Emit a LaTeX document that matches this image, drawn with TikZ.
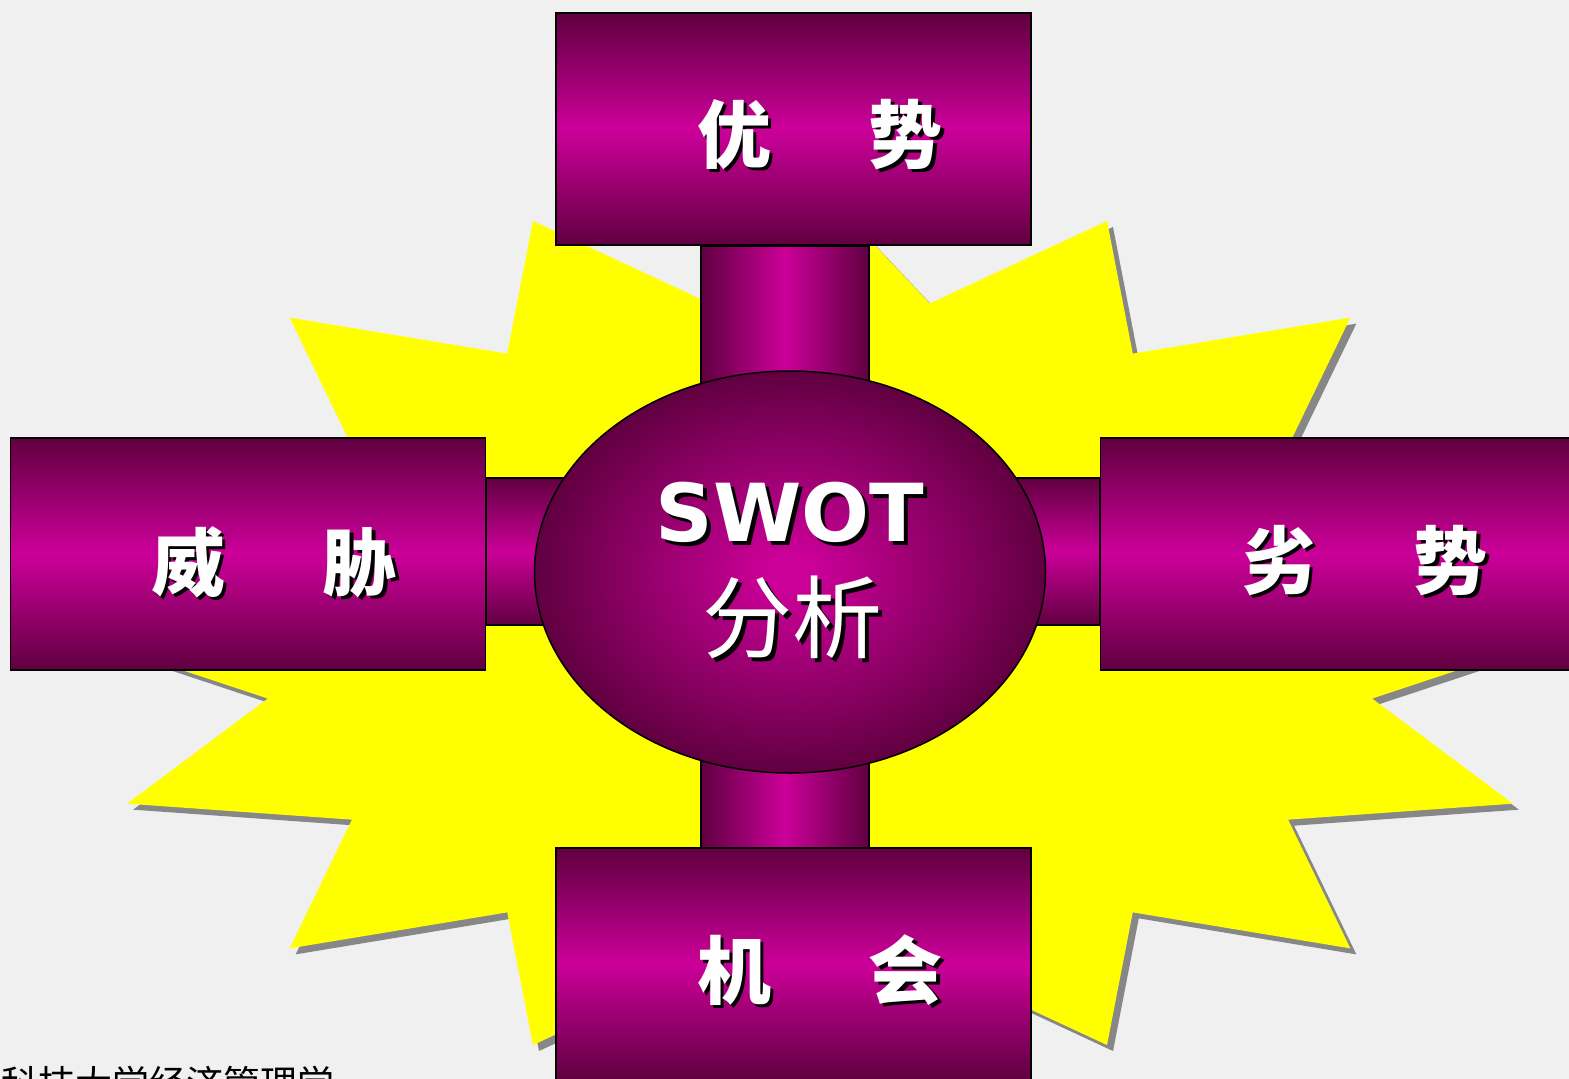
\documentclass[tikz,border=0pt]{standalone}
\usepackage{fontspec}
\newfontfamily\cjk{Noto Sans CJK SC}
\newfontfamily\vfont{DejaVu Sans}
\usetikzlibrary{shapes.geometric,calc}
\definecolor{bg}{RGB}{240,240,240}
\definecolor{dk}{RGB}{96,0,64}
\definecolor{mg}{RGB}{204,0,153}
\definecolor{sy}{RGB}{255,255,0}
\definecolor{shd}{RGB}{135,135,135}
\pgfdeclareradialshading{ellshade}{\pgfpoint{0bp}{0bp}}{color(0bp)=(mg); color(2bp)=(mg); color(25bp)=(dk); color(50bp)=(dk)}
\tikzset{
  box/.style={rectangle, draw=black, line width=1.5pt, top color=dk, bottom color=dk, middle color=mg,
    minimum width=475pt, minimum height=232pt, inner sep=0pt},
  vbarst/.style={draw=black, line width=1.5pt, left color=dk, right color=dk, middle color=mg},
  hbarst/.style={draw=black, line width=1.5pt, top color=dk, bottom color=dk, middle color=mg},
  hub/.style={ellipse, draw=black, line width=1.5pt, shading=ellshade, minimum width=511pt, minimum height=402pt, inner sep=0pt},
  lbl/.style={anchor=base, inner sep=0pt, text=white, font=\cjk\bfseries\fontsize{74}{74}\selectfont},
  lblsh/.style={lbl, text=black},
}
\begin{document}
\begin{tikzpicture}[x=1pt,y=-1pt]
\useasboundingbox (0,0) rectangle (1569,1079);
\clip (0,0) rectangle (1569,1079);
\fill[bg] (0,0) rectangle (1569,1079);
% star shadow
\begin{scope}[shift={(6,6)}]
\fill[shd] (820,187) \foreach \i in {0,...,15}{
  -- ({820+563*sin(\i*22.5+11.25)}, {633-336*cos(\i*22.5+11.25)})
  -- ({820+750*sin((\i+1)*22.5)}, {633-446*cos((\i+1)*22.5)}) } -- cycle;
\end{scope}
% star
\fill[sy] (820,187) \foreach \i in {0,...,15}{
  -- ({820+563*sin(\i*22.5+11.25)}, {633-336*cos(\i*22.5+11.25)})
  -- ({820+750*sin((\i+1)*22.5)}, {633-446*cos((\i+1)*22.5)}) } -- cycle;
% boxes (positions)
\path node[box] (S) at (793.5,129) {}
      node[box] (W) at (248,554) {}
      node[box] (T) at (1338,554) {}
      node[box] (O) at (793.5,964) {};
% connectors (bars)
\shade[vbarst] ($(S.south)+(-92.5,0)$) rectangle ($(O.north)+(75.5,0)$);
\shade[hbarst] ($(W.east)+(0,-76)$) rectangle ($(T.west)+(0,71)$);
% redraw boxes on top of bars
\path node[box] at (S) {}
      node[box] at (W) {}
      node[box] at (T) {}
      node[box] at (O) {};
% hub
\node[hub] (C) at (790,572) {};
% labels
\node[lblsh] at (823.5,165.5) {优\hspace{98pt}势};
\node[lbl] (Sl) at (820,162) {优\hspace{98pt}势};
\node[lblsh] at (277.5,593.5) {威\hspace{98pt}胁};
\node[lbl] (Wl) at (274,590) {威\hspace{98pt}胁};
\node[lblsh] at (1368.5,591.5) {劣\hspace{98pt}势};
\node[lbl] (Tl) at (1365,588) {劣\hspace{98pt}势};
\node[lblsh] at (823.5,1001.5) {机\hspace{98pt}会};
\node[lbl] (Ol) at (820,998) {机\hspace{98pt}会};
\node[anchor=base, inner sep=0pt, text=black, font=\vfont\bfseries\fontsize{80}{80}\selectfont] at (794,545) {SWOT};
\node[anchor=base, inner sep=0pt, text=white, font=\vfont\bfseries\fontsize{80}{80}\selectfont] (Cs) at (790,541) {SWOT};
\node[anchor=base, inner sep=0pt, text=black, font=\cjk\fontsize{90}{90}\selectfont] at (796,655) {分析};
\node[anchor=base, inner sep=0pt, text=white, font=\cjk\fontsize{90}{90}\selectfont] (Ca) at (792,651) {分析};
% footer
\node[anchor=base west, inner sep=0pt, text=black, font=\cjk\fontsize{37}{37}\selectfont] (foot) at (1,1097) {科技大学经济管理学};
\end{tikzpicture}
\end{document}
